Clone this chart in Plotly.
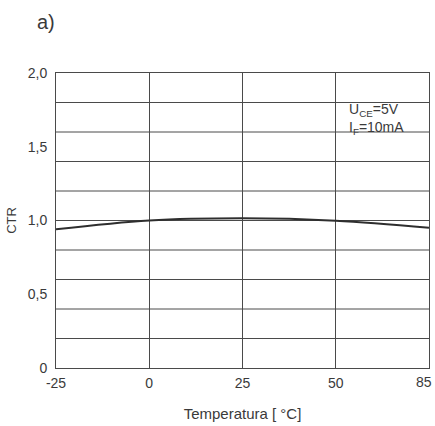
import plotly.graph_objects as go

temps = ["-25", "0", "25", "50", "85"]
ctr = [0.94, 1.0, 1.015, 0.999, 0.951]
y_ticks = [0, 0.5, 1.0, 1.5, 2.0]
y_tick_labels = ["0", "0,5", "1,0", "1,5", "2,0"]

font_fam = "Liberation Sans, Arial, sans-serif"
txt = "#3a3a3a"
grid = "#4a4a4a"

fig = go.Figure()
fig.add_trace(go.Scatter(x=list(range(len(temps))), y=ctr, mode="lines",
                         line=dict(color="#2e2e2e", width=2, shape="spline"),
                         showlegend=False, hoverinfo="skip"))

# last tick label drawn right-aligned at the edge so it is not cut off
x_ticktext = temps[:-1] + [""]

fig.update_layout(
    width=435, height=426,
    margin=dict(l=56, r=6, t=73, b=58, autoexpand=False),
    paper_bgcolor="white", plot_bgcolor="white",
    font=dict(family=font_fam, color=txt, size=14),
    xaxis=dict(range=[0, len(temps) - 1], tickmode="array",
               tickvals=list(range(len(temps))), ticktext=x_ticktext,
               showgrid=True, gridcolor=grid, gridwidth=1,
               showline=True, linecolor=grid, linewidth=1, mirror=True,
               ticks="outside", ticklen=2, tickcolor="rgba(0,0,0,0)",
               ticklabeloverflow="allow", automargin=False,
               zeroline=False, tickfont=dict(size=14, color=txt),
               title=dict(text="Temperatura [ °C]", font=dict(size=15, color=txt), standoff=18)),
    yaxis=dict(range=[0, 2.0], tickmode="array", tickvals=y_ticks, ticktext=y_tick_labels,
               showgrid=False, showline=True, linecolor=grid, linewidth=1, mirror=True,
               ticks="outside", ticklen=5, tickcolor="rgba(0,0,0,0)",
               ticklabeloverflow="allow", automargin=False,
               zeroline=False, tickfont=dict(size=14, color=txt),
               title=dict(text="CTR", font=dict(size=13, color=txt), standoff=8)),
)

# horizontal grid every 0.2
for i in range(1, 10):
    fig.add_shape(type="line", xref="paper", yref="y", x0=0, x1=1, y0=i * 0.2, y1=i * 0.2,
                  line=dict(color=grid, width=1), layer="below")

fig.add_annotation(xref="paper", yref="paper", x=1.014, y=-0.012, xanchor="right", yanchor="top",
                   text=temps[-1], showarrow=False, font=dict(size=14, color=txt))
fig.add_annotation(xref="paper", yref="y", x=0.78, y=1.75, xanchor="left", yanchor="middle",
                   text="U<sub>CE</sub>=5V", showarrow=False, align="left",
                   font=dict(size=14, color=txt))
fig.add_annotation(xref="paper", yref="y", x=0.78, y=1.625, xanchor="left", yanchor="middle",
                   text="I<sub>F</sub>=10mA", showarrow=False, align="left",
                   font=dict(size=14, color=txt))
fig.add_annotation(xref="paper", yref="paper", x=-0.056, y=1.173, xanchor="left", yanchor="middle",
                   text="a)", showarrow=False, font=dict(size=20, color=txt))

fig.write_html("out.html")
